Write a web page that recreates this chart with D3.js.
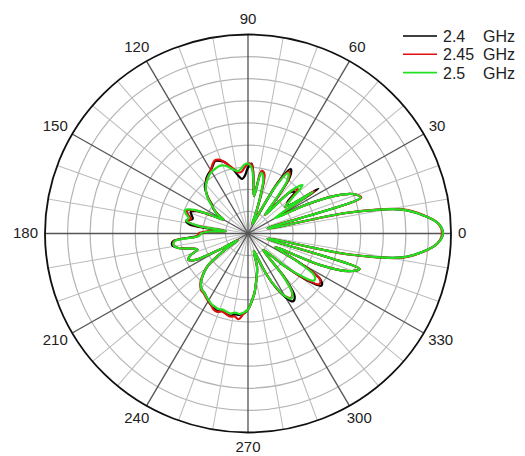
<!DOCTYPE html>
<html>
<head>
<meta charset="utf-8">
<script src="https://cdn.jsdelivr.net/npm/d3@7"></script>
<style>
  body { margin: 0; background: #fff; }
  svg { display: block; font-family: "Liberation Sans", Arial, sans-serif; }
</style>
</head>
<body>
<svg id="chart" width="525" height="456"></svg>
<script>
// pattern sampled every 3 degrees, values in dB
const angles = d3.range(0, 360, 3)

const freqs = ['2.4', '2.45', '2.5']
const unit = 'GHz'
const colors = ['#000000', '#e01010', '#22e022']

const gain24 = [
  -1.8,-2.7,-5.9,-10.4,-22.4,-40.5,-18.8,-20.1,-24.2,-31,
  -37.1,-26.4,-34.1,-33.7,-31,-31.9,-39.3,-35.5,-29.2,-27.6,
  -31.4,-41.6,-42.7,-40.5,-36,-31.4,-30.7,-36.4,-33.2,-29.2,
  -30.1,-31.9,-32.6,-31.9,-30.5,-29.2,-28,-27.4,-27.1,-27.8,
  -28.5,-28.9,-29.4,-30.1,-30.7,-31.9,-33.2,-34.8,-35.5,-36.9,
  -38.7,-36,-32.6,-31.4,-31.9,-32.3,-31,-31.9,-40,-36.4,
  -34.6,-33.7,-28.3,-28,-29.2,-31.9,-33.2,-31.4,-30.5,-31.9,
  -37.8,-42.3,-38.2,-33.7,-31.9,-30.5,-29.4,-28.7,-28.5,-28,
  -27.4,-26.9,-26.5,-26.2,-26.5,-26.2,-26,-26.5,-26.5,-26.9,
  -27.8,-29.6,-31.4,-33.7,-35.5,-37.3,-40.9,-39.3,-34.8,-31,
  -28.3,-26.7,-27.4,-31.9,-40,-38.7,-33.7,-28.3,-24.9,-25.8,
  -31.9,-38.2,-27.4,-21.2,-19,-40.5,-22.4,-10.4,-5.9,-2.9
]

const gain245 = [
  -2,-2.7,-5.8,-10.2,-22.2,-40.5,-18.6,-20.1,-24.2,-31,
  -37.5,-27.4,-34.8,-33.2,-30.1,-31.4,-39.3,-35.5,-29.6,-28.3,
  -31.9,-41.6,-42.7,-40,-35.5,-31,-30.5,-36.4,-33.2,-29.4,
  -29.2,-30.1,-31,-31,-30.1,-29.2,-28,-27.1,-26.9,-27.6,
  -28.5,-29.2,-29.6,-30.3,-31,-31.9,-33.2,-34.6,-35.7,-36.9,
  -38.7,-36,-32.1,-30.5,-31,-31.9,-31.4,-33.2,-40,-36,
  -34.1,-33.7,-28.5,-28.3,-29.2,-31.9,-33.2,-31.4,-30.5,-31.9,
  -37.8,-42.3,-38.2,-33.7,-31.9,-30.3,-29.2,-28.5,-28.3,-27.8,
  -27.4,-26.9,-26.2,-26,-26.5,-26.2,-25.8,-26,-25.5,-26.9,
  -27.8,-29.6,-31.4,-33.7,-35.5,-37.3,-40.9,-39.3,-34.8,-31.4,
  -28.7,-27.6,-28.3,-32.3,-40,-38.7,-33.7,-28.7,-25.5,-26,
  -32.1,-38.2,-27.4,-21.2,-19,-40.5,-22.2,-10.2,-5.8,-2.9
]

const gain25 = [
  -1.8,-2.7,-5.9,-10.4,-22.4,-40.5,-18.8,-20.1,-24.2,-31,
  -38.2,-27.8,-34.8,-32.6,-28.7,-31,-39.3,-36,-30.1,-28.7,
  -32.6,-41.6,-42.7,-40.5,-36,-31.9,-31,-36.4,-33.2,-30.1,
  -29.2,-29.4,-30.3,-30.7,-30.3,-29.6,-28.9,-28.5,-28.5,-28.7,
  -28.9,-29.2,-29.8,-30.3,-31,-31.9,-33,-34.4,-35.7,-36.6,
  -38.7,-36,-31.9,-30.1,-30.5,-31.4,-31,-33.7,-40,-36.4,
  -34.6,-34.1,-28.7,-28.3,-29.2,-31.9,-33.2,-31.4,-30.5,-31.9,
  -37.8,-42.3,-38.2,-33.7,-31.9,-30.5,-29.4,-28.7,-28.5,-28,
  -27.6,-27.1,-26.9,-26.7,-26.9,-26.7,-26.5,-26.9,-26.7,-27.1,
  -27.8,-29.6,-31.4,-33.7,-35.5,-37.3,-40.9,-39.3,-34.8,-31.4,
  -28.7,-27.4,-28.3,-32.6,-40,-38.7,-33.7,-29.6,-26.9,-27.4,
  -32.6,-38.2,-27.4,-21.2,-19,-40.5,-22.4,-10.4,-5.9,-2.9
]

const series = [gain24, gain245, gain25]
const angleLabels = ['0','30','60','90','120','150','180','210','240','270','300','330']
const ringValues = [-40,-35,-30,-25,-20,-15,-10,-5,0]

const cx = 248, cy = 233.5
const R = 199           // vertical radius
const sx = 203 / 199    // picture is a touch wider than tall

const svg = d3.select('#chart')

const r = d3.scaleLinear()
  .domain([-45, 0])
  .range([0, R])
  .clamp(true)

const rad = a => a * Math.PI / 180

const g = svg.append('g')
  .attr('transform', 'translate(' + cx + ',' + cy + ') scale(' + sx + ',1)')

// rings
g.append('g')
  .selectAll('circle')
  .data(ringValues.slice(0, -1))
  .join('circle')
    .attr('r', d => r(d))
    .attr('fill', 'none')
    .attr('stroke', '#b4b4b4')
    .attr('stroke-width', 1.2)

// minor spokes every 10 degrees
g.append('g')
  .selectAll('line')
  .data(d3.range(0, 360, 10).filter(a => a % 30 !== 0))
  .join('line')
    .attr('x1', 0).attr('y1', 0)
    .attr('x2', a => R * Math.cos(rad(a)))
    .attr('y2', a => -R * Math.sin(rad(a)))
    .attr('stroke', '#bcbcbc')
    .attr('stroke-width', 1)

// major spokes
g.append('g')
  .selectAll('line')
  .data(angleLabels.map(Number))
  .join('line')
    .attr('x1', 0).attr('y1', 0)
    .attr('x2', a => R * Math.cos(rad(a)))
    .attr('y2', a => -R * Math.sin(rad(a)))
    .attr('stroke', '#555')
    .attr('stroke-width', 1.3)

// outer circle
g.append('circle')
  .attr('r', r(0))
  .attr('fill', 'none')
  .attr('stroke', '#111')
  .attr('stroke-width', 1.8)

// pattern curves
const line = d3.lineRadial()
  .angle((d, i) => rad(90 - angles[i]))
  .radius(d => r(d))
  .curve(d3.curveCatmullRomClosed.alpha(0.5))

g.append('g')
  .selectAll('path')
  .data(series)
  .join('path')
    .attr('d', d => line(d))
    .attr('fill', 'none')
    .attr('stroke', (d, i) => colors[i])
    .attr('stroke-width', 2.2)
    .attr('stroke-linejoin', 'round')

// angle labels
const lab = svg.append('g')
  .attr('font-size', 15)
  .attr('fill', '#222')

lab.selectAll('text')
  .data(angleLabels)
  .join('text')
    .text(d => d)
    .attr('text-anchor', 'middle')
    .attr('dominant-baseline', 'central')
    .attr('x', function(d) {
      const a = rad(+d)
      const hw = this.getComputedTextLength() / 2
      return cx + (R * sx + 7) * Math.cos(a) + hw * Math.cos(a)
    })
    .attr('y', d => {
      const a = rad(+d)
      return cy - 1.5 - (R + 7) * Math.sin(a) - 8 * Math.sin(a)
    })

// legend
const leg = svg.append('g')
  .selectAll('g')
  .data(freqs)
  .join('g')
    .attr('transform', (d, i) => 'translate(0,' + (36 + i * 18.3) + ')')

leg.append('line')
  .attr('x1', 403).attr('x2', 437)
  .attr('stroke', (d, i) => colors[i])
  .attr('stroke-width', 1.6)

leg.append('text')
  .attr('x', 443).attr('y', 6)
  .attr('font-size', 16)
  .attr('fill', '#222')
  .text(d => d)

leg.append('text')
  .attr('x', 483).attr('y', 6)
  .attr('font-size', 16)
  .attr('fill', '#222')
  .text(unit)
</script>
</body>
</html>
